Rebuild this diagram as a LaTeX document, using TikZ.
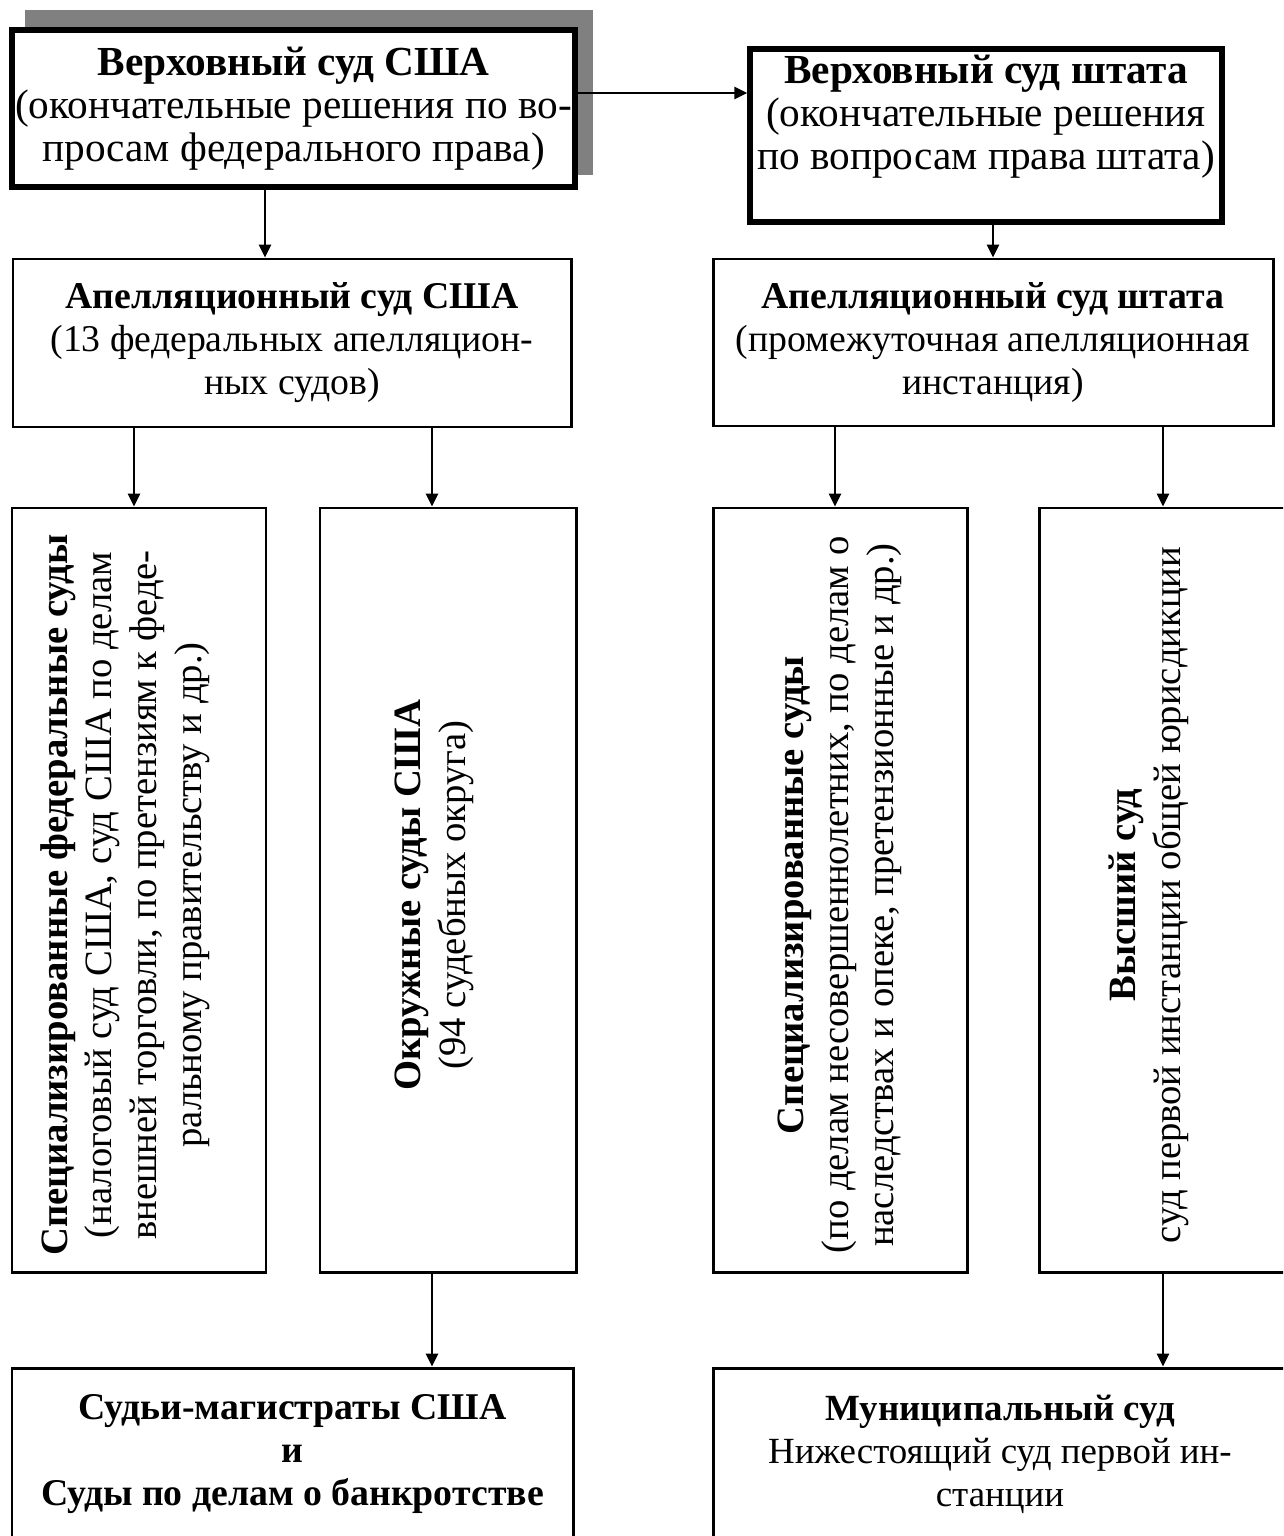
\documentclass[tikz,border=0pt]{standalone}
\usepackage{fontspec}
\setmainfont{Liberation Serif}
\usepackage{tikz}
\usepackage{xcolor}
\usetikzlibrary{arrows.meta, positioning, calc}
\definecolor{cShadow}{RGB}{128,128,128}
\tikzset{
	court/.style   ={rectangle, draw=black, line width=1.7pt, align=center, inner sep=0pt},
	topfont/.style ={font=\fontsize{23.5}{24.5}\selectfont},
	topcourt/.style={court, topfont, line width=3pt, fill=white},
	vtext/.style   ={rotate=90, align=center, xshift=-0.1cm, yshift=0.28cm, font=\fontsize{22}{25.5}\selectfont},
	sig/.style     ={-{Triangle[length=0.26cm, width=0.24cm]}, line width=1.6pt},
}
\begin{document}
\begin{tikzpicture}[font=\fontsize{21.5}{24.5}\selectfont]
	% page
	\useasboundingbox (0,0) rectangle (25.66,-30.72);
	\clip (0,0) rectangle (25.66,-30.72);
	% federal branch
	\fill[cShadow] (0.5,-0.2) rectangle (11.86,-3.5);
	\node[topcourt, minimum width=11.26cm, minimum height=3.14cm] (sup) at (5.87,-2.17)
		{\textbf{Верховный суд США}\\(окончательные решения по во-\\просам федерального права)};
	\node[court, minimum width=11.16cm, minimum height=3.36cm] (appF) at (5.84,-6.86)
		{\textbf{Апелляционный суд США}\\(13 федеральных апелляцион-\\ных судов)};
	\node[court, minimum width=5.08cm, minimum height=15.28cm] (specF) at (2.78,-17.8) {};
	\node[vtext] at (specF)
		{\textbf{Специализированные федеральные суды}\\(налоговый суд США, суд США по делам\\внешней торговли, по претензиям к феде-\\ральному правительству и др.)};
	\node[court, minimum width=5.12cm, minimum height=15.28cm] (distF) at (8.96,-17.8) {};
	\node[vtext] at (distF)
		{\textbf{Окружные суды США}\\(94 судебных округа)};
	\node[court, minimum width=11.22cm, minimum height=3.44cm] (magF) at (5.85,-29.08)
		{\textbf{Судьи-магистраты США}\\\textbf{и}\\\textbf{Суды по делам о банкротстве}};
	% state branch
	\node[topcourt, minimum width=9.44cm, minimum height=3.46cm] (ssup) at (19.72,-2.71) {};
	\node[topfont, align=center] at ($(ssup)+(0,0.37)$)
		{\textbf{Верховный суд штата}\\(окончательные решения\\по вопросам права штата)};
	\node[court, minimum width=11.2cm, minimum height=3.34cm] (appS) at (19.86,-6.85)
		{\textbf{Апелляционный суд штата}\\(промежуточная апелляционная\\инстанция)};
	\node[court, minimum width=5.08cm, minimum height=15.28cm] (specS) at (16.8,-17.8) {};
	\node[vtext, yshift=-0.28cm] at (specS)
		{\textbf{Специализированные суды}\\(по делам несовершеннолетних, по делам о\\наследствах и опеке, претензионные и др.)};
	\node[court, minimum width=4.96cm, minimum height=15.28cm] (high) at (23.26,-17.8) {};
	\node[vtext] at (high)
		{\textbf{Высший суд}\\суд первой инстанции общей юрисдикции};
	\node[court, font=\fontsize{21}{24.5}\selectfont, minimum width=11.48cm, minimum height=3.44cm] (muni) at (20.0,-29.08)
		{\textbf{Муниципальный суд}\\Нижестоящий суд первой ин-\\станции};
	% connectors
	\coordinate (yTop) at (0,-1.86);
	\coordinate (xSup) at (5.3,0);
	\coordinate (xSpecF) at (2.68,0);
	\coordinate (xDistF) at (8.64,0);
	\coordinate (xSpecS) at (16.7,0);
	\draw[sig] (sup.east |- yTop) -- (ssup.west |- yTop);
	\draw[sig] (sup.south -| xSup) -- (appF.north -| xSup);
	\draw[sig] (appS.north |- ssup.south) -- (appS.north);
	\draw[sig] (appF.south -| xSpecF) -- (specF.north -| xSpecF);
	\draw[sig] (appF.south -| xDistF) -- (distF.north -| xDistF);
	\draw[sig] (appS.south -| xSpecS) -- (specS.north -| xSpecS);
	\draw[sig] (appS.south -| high.north) -- (high.north);
	\draw[sig] (distF.south -| xDistF) -- (magF.north -| xDistF);
	\draw[sig] (high.south) -- (muni.north -| high.south);
\end{tikzpicture}
\end{document}
